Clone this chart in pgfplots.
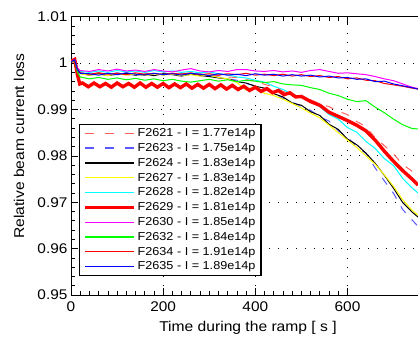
\documentclass[border=0pt]{standalone}
\usepackage{fontspec}
\setmainfont{Liberation Sans}[FakeStretch=1.1]
\usepackage{pgfplots}
\pgfplotsset{compat=1.18}
\definecolor{cRed}{rgb}{1,0,0}
\definecolor{cBlue}{rgb}{0,0,1}
\definecolor{cYellow}{rgb}{1,1,0}
\definecolor{cCyan}{rgb}{0,1,1}
\definecolor{cMagenta}{rgb}{1,0,1}
\definecolor{cGreen}{rgb}{0,1,0}
\definecolor{cBlack}{rgb}{0,0,0}
\definecolor{cDRed}{rgb}{1,0.38,0.38}
\definecolor{cDBlue}{rgb}{0.35,0.35,1}
\pgfplotsset{
  limg/.style 2 args={legend image code/.code={\draw[draw=#1, line width=1.2pt, #2] (0pt,0pt) -- (49pt,0pt);}},
}
\begin{document}
\begin{tikzpicture}
\begin{axis}[
  scale only axis, width=347pt, height=278.3pt,
  xmin=0, xmax=753, ymin=0.95, ymax=1.01,
  axis y line*=left,
  tick align=inside,
  xtick={0,200,400,600},
  ytick={0.95,0.96,0.97,0.98,0.99,1,1.01},
  yticklabels={0.95,0.96,0.97,0.98,0.99,1,1.01},
  minor x tick num=9, minor y tick num=4,
  major tick length=7pt, minor tick length=4pt,
  every tick/.style={cBlack, line width=0.7pt},
  axis line style={cBlack, line width=0.9pt},
  /pgf/number format/assume math mode=true,
  tick label style={font=\fontsize{14}{16}\selectfont},
  xticklabel style={yshift=-3pt},
  grid=major,
  major grid style={cBlack, line width=0.8pt, dash pattern=on 0.8pt off 8.2pt},
  xlabel={Time during the ramp [ s ]},
  ylabel={Relative beam current loss},
  xlabel style={font=\fontsize{14.2}{16}\selectfont, at={(axis description cs:0.51,-0.1186)}, anchor=center},
  ylabel style={font=\fontsize{14.2}{16}\selectfont, at={(axis description cs:-0.1499,0.535)}, anchor=center},
  legend cell align=left,
  legend style={at={(axis cs:17.4,0.98688)}, anchor=north west,
    font=\fontsize{11.5}{13}\selectfont, draw=cBlack, line width=1.1pt,
    inner xsep=4pt, inner ysep=2.5pt, row sep=2.3pt,
    nodes={inner sep=1.5pt}},
]
\coordinate (bl) at (rel axis cs:0,0);
\coordinate (tr) at (rel axis cs:1,1);

\addplot[color=cDRed, draw=cDRed, line width=1pt, dash pattern=on 8pt off 9pt, limg={cDRed}{dash pattern=on 9pt off 11pt}] coordinates {
(0,1.0004)(8,1.0008)(14,0.9986)(20,0.9978)(40,0.9975)(60,0.9979)(80,0.9975)(100,0.9978)(120,0.9974)(140,0.9977)(160,0.9979)(180,0.9975)(200,0.9977)(220,0.9974)(240,0.9978)(260,0.9975)(280,0.9977)(300,0.9973)(320,0.9974)(340,0.9970)(360,0.9969)(380,0.9964)(400,0.9962)(420,0.9954)(440,0.9949)(460,0.9939)(480,0.9933)(500,0.9925)(520,0.9921)(540,0.9912)(560,0.9906)(580,0.9896)(600,0.9889)(620,0.9874)(640,0.9863)(660,0.9839)(680,0.9822)(700,0.9804)(720,0.9781)(740,0.9767)(753,0.9760)};
\addlegendentry{F2621 - I = 1.77e14p}

\addplot[color=cDBlue, draw=cDBlue, line width=1pt, dash pattern=on 8pt off 9pt, limg={cDBlue}{dash pattern=on 9pt off 11pt}] coordinates {
(0,1.0003)(8,1.0007)(14,0.9987)(20,0.9979)(40,0.9976)(60,0.9978)(80,0.9975)(100,0.9979)(120,0.9976)(140,0.9974)(160,0.9978)(180,0.9976)(200,0.9979)(220,0.9975)(240,0.9977)(260,0.9974)(280,0.9976)(300,0.9973)(320,0.9970)(340,0.9966)(360,0.9963)(380,0.9956)(400,0.9951)(420,0.9943)(440,0.9936)(460,0.9924)(480,0.9916)(500,0.9906)(520,0.9898)(540,0.9884)(560,0.9875)(580,0.9854)(600,0.9840)(620,0.9820)(640,0.9805)(660,0.9774)(680,0.9746)(700,0.9719)(720,0.9684)(740,0.9662)(753,0.9648)};
\addlegendentry{F2623 - I = 1.75e14p}

\addplot[color=cBlack, draw=cBlack, line width=1pt, limg={cBlack}{}] coordinates {
(0,1.0004)(8,1.0008)(14,0.9986)(20,0.9978)(40,0.9974)(60,0.9977)(80,0.9973)(100,0.9976)(120,0.9978)(140,0.9974)(160,0.9976)(180,0.9973)(200,0.9977)(220,0.9975)(240,0.9972)(260,0.9976)(280,0.9973)(300,0.9971)(320,0.9968)(340,0.9966)(360,0.9960)(380,0.9957)(400,0.9950)(420,0.9946)(440,0.9934)(460,0.9927)(480,0.9914)(500,0.9909)(520,0.9895)(540,0.9887)(560,0.9868)(580,0.9857)(600,0.9836)(620,0.9824)(640,0.9806)(660,0.9784)(680,0.9758)(700,0.9730)(720,0.9699)(740,0.9679)(753,0.9668)};
\addlegendentry{F2624 - I = 1.83e14p}

\addplot[color=cYellow, draw=cYellow, line width=1pt, limg={cYellow}{}] coordinates {
(0,1.0003)(8,1.0007)(14,0.9985)(20,0.9977)(40,0.9974)(60,0.9976)(80,0.9973)(100,0.9977)(120,0.9974)(140,0.9976)(160,0.9973)(180,0.9977)(200,0.9974)(220,0.9976)(240,0.9973)(260,0.9975)(280,0.9972)(300,0.9974)(320,0.9969)(340,0.9966)(360,0.9958)(380,0.9942)(400,0.9950)(420,0.9935)(440,0.9930)(460,0.9922)(480,0.9913)(500,0.9903)(520,0.9892)(540,0.9882)(560,0.9866)(580,0.9850)(600,0.9834)(620,0.9818)(640,0.9800)(660,0.9782)(680,0.9759)(700,0.9734)(720,0.9705)(740,0.9683)(753,0.9672)};
\addlegendentry{F2627 - I = 1.83e14p}

\addplot[color=cCyan, draw=cCyan, line width=1pt, limg={cCyan}{}] coordinates {
(0,1.0004)(8,1.0008)(14,0.9989)(20,0.9982)(40,0.9980)(60,0.9983)(80,0.9980)(100,0.9984)(120,0.9981)(140,0.9983)(160,0.9980)(180,0.9984)(200,0.9981)(220,0.9983)(240,0.9980)(260,0.9982)(280,0.9979)(300,0.9981)(320,0.9977)(340,0.9975)(360,0.9970)(380,0.9968)(400,0.9963)(420,0.9959)(440,0.9950)(460,0.9943)(480,0.9933)(500,0.9927)(520,0.9918)(540,0.9906)(560,0.9889)(580,0.9879)(600,0.9861)(620,0.9851)(640,0.9831)(660,0.9816)(680,0.9794)(700,0.9779)(720,0.9751)(740,0.9731)(753,0.9720)};
\addlegendentry{F2628 - I = 1.82e14p}

\addplot[color=cRed, draw=cRed, line width=3.4pt, limg={cRed}{line width=3.6pt}] coordinates {
(0,1.0004)(8,1.0008)(14,0.9975)(19,0.9955)(25,0.9957)(37.5,0.9949)(50,0.9957)(62.5,0.9949)(75,0.9956)(87.5,0.9948)(100,0.9957)(112.5,0.9949)(125,0.9956)(137.5,0.9948)(150,0.9957)(162.5,0.9948)(175,0.9956)(187.5,0.9948)(200,0.9956)(212.5,0.9947)(225,0.9955)(237.5,0.9947)(250,0.9955)(262.5,0.9946)(275,0.9954)(287.5,0.9946)(300,0.9954)(312.5,0.9945)(325,0.9953)(337.5,0.9944)(350,0.9952)(362.5,0.9943)(375,0.9950)(387.5,0.9941)(400,0.9948)(412.5,0.9939)(425,0.9945)(437.5,0.9936)(450,0.9941)(462.5,0.9932)(475,0.9936)(487.5,0.9927)(500,0.9928)(520,0.9917)(540,0.9909)(560,0.9894)(580,0.9885)(600,0.9876)(620,0.9866)(640,0.9854)(660,0.9834)(680,0.9810)(700,0.9788)(720,0.9768)(740,0.9750)(753,0.9737)};
\addlegendentry{F2629 - I = 1.81e14p}

\addplot[color=cMagenta, draw=cMagenta, line width=1pt, limg={cMagenta}{}] coordinates {
(0,1.0004)(8,1.0008)(14,0.9990)(20,0.9984)(40,0.9982)(60,0.9986)(80,0.9983)(100,0.9987)(120,0.9983)(140,0.9985)(160,0.9982)(180,0.9986)(200,0.9983)(220,0.9981)(240,0.9985)(260,0.9988)(280,0.9983)(300,0.9981)(320,0.9984)(340,0.9982)(360,0.9986)(380,0.9986)(400,0.9983)(420,0.9982)(440,0.9984)(460,0.9981)(480,0.9983)(500,0.9980)(520,0.9984)(540,0.9986)(560,0.9982)(580,0.9978)(600,0.9979)(620,0.9977)(640,0.9975)(660,0.9971)(680,0.9966)(700,0.9962)(720,0.9955)(740,0.9948)(753,0.9945)};
\addlegendentry{F2630 - I = 1.85e14p}

\addplot[color=cGreen, draw=cGreen, line width=1pt, limg={cGreen}{}] coordinates {
(0,1.0003)(8,1.0006)(14,0.9980)(20,0.9970)(40,0.9966)(60,0.9969)(80,0.9965)(100,0.9968)(120,0.9964)(140,0.9967)(160,0.9963)(180,0.9966)(200,0.9962)(220,0.9965)(240,0.9961)(260,0.9959)(280,0.9962)(300,0.9965)(320,0.9961)(340,0.9964)(360,0.9960)(380,0.9963)(400,0.9961)(420,0.9958)(440,0.9960)(460,0.9955)(480,0.9953)(500,0.9952)(520,0.9947)(540,0.9943)(560,0.9935)(580,0.9930)(600,0.9922)(620,0.9917)(640,0.9919)(660,0.9905)(680,0.9893)(700,0.9879)(720,0.9867)(740,0.9859)(753,0.9858)};
\addlegendentry{F2632 - I = 1.84e14p}

\addplot[color=cRed, draw=cRed, line width=1pt, limg={cRed}{}] coordinates {
(0,1.0004)(8,1.0008)(14,0.9987)(20,0.9979)(40,0.9976)(60,0.9979)(80,0.9976)(100,0.9978)(120,0.9975)(140,0.9979)(160,0.9976)(180,0.9978)(200,0.9975)(220,0.9978)(240,0.9976)(260,0.9979)(280,0.9975)(300,0.9977)(320,0.9974)(340,0.9977)(360,0.9975)(380,0.9978)(400,0.9974)(420,0.9976)(440,0.9973)(460,0.9976)(480,0.9972)(500,0.9975)(520,0.9971)(540,0.9973)(560,0.9969)(580,0.9971)(600,0.9966)(620,0.9968)(640,0.9963)(660,0.9962)(680,0.9956)(700,0.9953)(720,0.9950)(740,0.9946)(753,0.9944)};
\addlegendentry{F2634 - I = 1.91e14p}

\addplot[color=cBlue, draw=cBlue, line width=1pt, limg={cBlue}{}] coordinates {
(0,1.0003)(8,1.0007)(14,0.9986)(20,0.9978)(40,0.9977)(60,0.9974)(80,0.9978)(100,0.9975)(120,0.9979)(140,0.9976)(160,0.9974)(180,0.9978)(200,0.9975)(220,0.9977)(240,0.9974)(260,0.9978)(280,0.9976)(300,0.9973)(320,0.9977)(340,0.9974)(360,0.9976)(380,0.9973)(400,0.9977)(420,0.9974)(440,0.9976)(460,0.9972)(480,0.9975)(500,0.9972)(520,0.9974)(540,0.9970)(560,0.9972)(580,0.9968)(600,0.9969)(620,0.9965)(640,0.9966)(660,0.9960)(680,0.9961)(700,0.9955)(720,0.9951)(740,0.9947)(753,0.9944)};
\addlegendentry{F2635 - I = 1.89e14p}
\end{axis}
\pgfresetboundingbox
\path ([shift={(-71pt,-41pt)}]bl) rectangle ([shift={(0pt,16.7pt)}]tr);
\end{tikzpicture}
\end{document}
